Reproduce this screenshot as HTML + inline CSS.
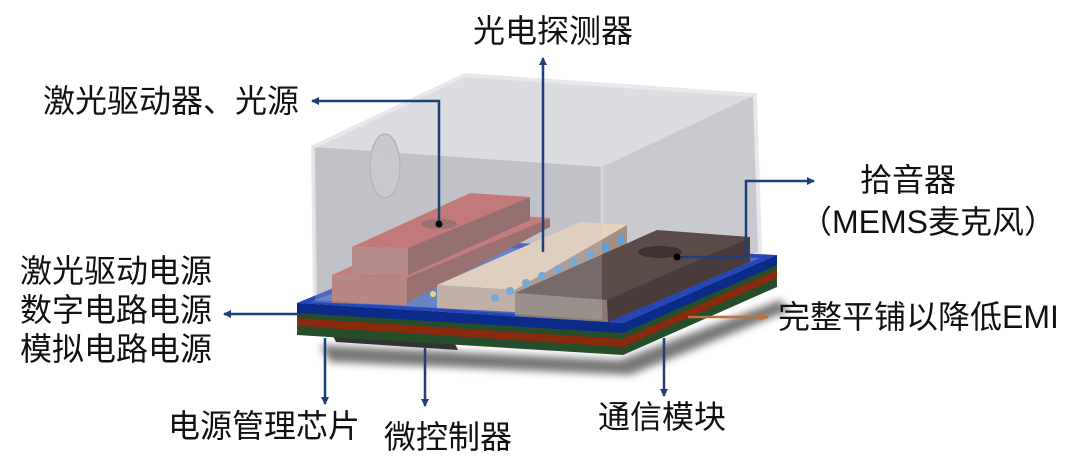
<!DOCTYPE html>
<html><head><meta charset="utf-8"><style>
html,body{margin:0;padding:0;background:#fff;}
svg{display:block;}
text{font-family:"Liberation Sans","Noto Sans CJK SC",sans-serif;font-size:32px;fill:#111;}
</style></head><body>
<svg width="1080" height="471" viewBox="0 0 1080 471" xmlns="http://www.w3.org/2000/svg">
<defs>
<marker id="ab" markerWidth="8" markerHeight="8" refX="7" refY="4" orient="auto" markerUnits="userSpaceOnUse"><path d="M0,0 L8,4 L0,8 Z" fill="#1f3f7a"/></marker>
<marker id="ao" markerWidth="10" markerHeight="8" refX="9" refY="4" orient="auto" markerUnits="userSpaceOnUse"><path d="M0,0 L10,4 L0,8 Z" fill="#c0703a"/></marker>
<filter id="bl"><feGaussianBlur stdDeviation="4"/></filter>
</defs>
<!-- shadow -->
<path d="M320,345 L620,360 L780,300 L790,310 L630,375 L330,362 Z" fill="#777" filter="url(#bl)"/>
<!-- bottom chip -->
<path d="M333,336 L455,344 L458,350 L336,342 Z" fill="#333"/>
<!-- glass back -->
<path d="M313,147 L465,75 L755,95 L760,253 L602,320 L315,300 Z" fill="#d4d5da"/>
<path d="M465,75 L755,95 L602,167 L313,147 Z" fill="#dcdde1"/>
<path d="M602,167 L755,95 L760,253 L602,320 Z" fill="#c9cacf"/>
<path d="M313,147 L602,167 L602,320 L315,300 Z" fill="#bfc0c6"/>
<path d="M313,147 L465,75 L755,95 L760,253 L602,320 L315,300 Z" fill="none" stroke="#e8e8ec" stroke-width="4"/>
<path d="M602,167 L602,320" stroke="#d8d8dc" stroke-width="3"/>
<ellipse cx="385" cy="166" rx="15" ry="32" fill="#c8c8cc" stroke="#aaa"/>
<!-- PCB layers -->
<path d="M297,303 L297,335 L623,355 L777,287 L777,255 L623,323 Z" fill="#264e2a"/>
<path d="M297,318 L623,339 L777,270 L777,278 L623,347 L297,326 Z" fill="#8a2a0e"/>
<path d="M297,303 L297,313 L623,333 L777,265 L777,255 L623,323 Z" fill="#0b2b8a"/>
<path d="M297,303 L450,240 L777,255 L623,323 Z" fill="#2647b5"/>
<path d="M310,302 L455,246 L760,258 L622,316 Z" fill="#4a6cc4"/>
<!-- red lower slab -->
<path d="M332,275 L470,213 L550,218 L407,278 Z" fill="#c06460"/>
<path d="M332,275 L407,278 L407,305 L332,303 Z" fill="#b0726c"/>
<path d="M407,278 L550,218 L550,227 L407,303 Z" fill="#8a5452"/>
<!-- red upper block -->
<path d="M352,247 L470,193 L530,197 L408,248 Z" fill="#c0605c"/>
<path d="M352,247 L408,248 L408,275 L352,275 Z" fill="#b07670"/>
<path d="M408,248 L530,197 L530,220 L408,275 Z" fill="#845352"/>
<ellipse cx="439" cy="224" rx="18" ry="5" fill="#8a5554"/>
<!-- beige bar -->
<path d="M437,285 L580,222 L627,225 L515,290 Z" fill="#e8d2ba"/>
<path d="M437,285 L515,290 L515,312 L437,308 Z" fill="#bfa898"/>
<path d="M515,290 L627,225 L627,248 L515,312 Z" fill="#a48f86"/>
<g fill="#5aa0dd">
<circle cx="495" cy="298" r="4"/><circle cx="510" cy="291" r="4"/><circle cx="526" cy="283" r="4"/><circle cx="542" cy="276" r="4"/><circle cx="558" cy="269" r="4"/><circle cx="574" cy="262" r="4"/><circle cx="590" cy="255" r="4"/><circle cx="606" cy="248" r="4"/><circle cx="621" cy="240" r="4"/>
</g>
<circle cx="433" cy="294" r="3" fill="#e8e060"/>
<!-- dark block -->
<path d="M515,293 L657,230 L750,237 L607,300 Z" fill="#5a4a48"/>
<path d="M515,293 L607,300 L608,322 L515,316 Z" fill="#8a7c74"/>
<path d="M607,300 L750,237 L750,262 L608,322 Z" fill="#4a3c3c"/>
<ellipse cx="660" cy="252" rx="22" ry="6" fill="#3e3232"/>
<!-- glass front tint -->
<path d="M313,147 L602,167 L602,320 L315,300 Z" fill="#c8c9ce" opacity="0.25"/>
<!-- connectors -->
<g stroke="#1f3f7a" stroke-width="2.5" fill="none">
<path d="M543,252 L543,58" marker-end="url(#ab)"/>
<path d="M439,224 L439,101 L312,101" marker-end="url(#ab)"/>
<path d="M677,257 L746,257 L746,181 L814,181" marker-end="url(#ab)"/>
<path d="M297,314 L224,314" marker-end="url(#ab)"/>
<path d="M325,338 L325,404" marker-end="url(#ab)"/>
<path d="M425,348 L425,406" marker-end="url(#ab)"/>
<path d="M664,338 L664,396" marker-end="url(#ab)"/>
</g>
<circle cx="439" cy="224" r="3.5" fill="#000"/>
<circle cx="677" cy="257" r="3.5" fill="#000"/>
<path d="M688,317 L768,317" stroke="#c0703a" stroke-width="2.5" marker-end="url(#ao)"/>
<!-- labels -->
<text x="473" y="42">光电探测器</text>
<text x="43" y="112">激光驱动器、光源</text>
<text x="20" y="282">激光驱动电源</text>
<text x="20" y="321">数字电路电源</text>
<text x="20" y="360">模拟电路电源</text>
<text x="860" y="191">拾音器</text>
<text x="800" y="233">（MEMS麦克风）</text>
<text x="778" y="328">完整平铺以降低EMI</text>
<text x="168" y="437">电源管理芯片</text>
<text x="384" y="448">微控制器</text>
<text x="598" y="428">通信模块</text>
</svg>
</body></html>
